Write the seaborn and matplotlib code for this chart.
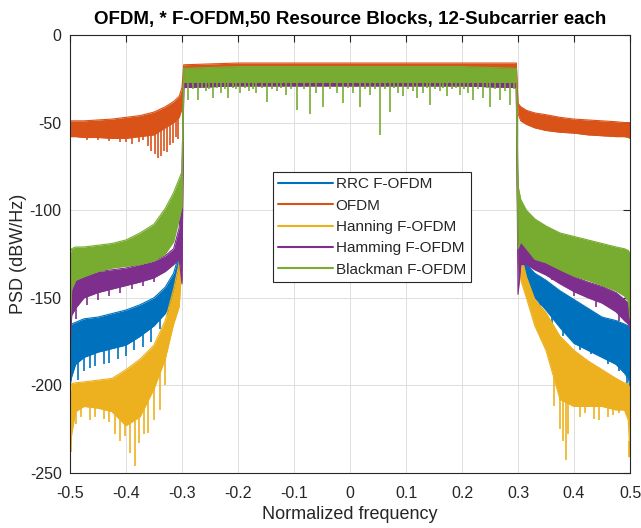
import numpy as np
import pandas as pd
import matplotlib
matplotlib.use("Agg")
import matplotlib.pyplot as plt
from matplotlib.lines import Line2D
import seaborn as sns

# Normalized frequency sample points shared by all spectra
freq = [-0.500, -0.497, -0.490, -0.475, -0.450, -0.425, -0.400, -0.375, -0.350,
        -0.330, -0.315, -0.305, -0.300,
        -0.297, -0.200, -0.100, 0.000, 0.100, 0.200, 0.297,
        0.300, 0.305, 0.315, 0.330, 0.350, 0.375, 0.400, 0.425, 0.450,
        0.475, 0.490, 0.497, 0.500]

series_names = ["RRC F-OFDM", "OFDM", "Hanning F-OFDM", "Hamming F-OFDM", "Blackman F-OFDM"]
series_colors = ["#0072BD", "#D95319", "#EDB120", "#7E2F8E", "#77AC30"]

# Upper / lower PSD envelopes (dBW/Hz) of each spectrum
rrc_hi = [-170, -165, -164, -162, -161, -159, -157, -154, -150, -144, -136, -125, -90,
          -20, -19, -19, -19, -19, -19, -20,
          -100, -125, -131, -136, -140, -146, -151, -156, -161, -163, -165, -166, -170]
rrc_lo = [-200, -195, -188, -184, -181, -179, -177, -172, -166, -159, -150, -140, -110,
          -30, -29, -29, -29, -29, -29, -30,
          -120, -135, -142, -150, -157, -167, -176, -180, -184, -188, -193, -196, -201]

ofdm_hi = [-49, -49, -49, -49, -48.5, -48, -47, -46, -44, -41, -38, -35, -30,
           -17, -16, -16, -16, -16, -16, -16,
           -39, -41, -43, -44.5, -45.5, -47, -48, -48.5, -49, -49.5, -50, -50, -50]
ofdm_lo = [-58, -58, -58, -58.5, -58.5, -59, -59, -58, -57, -53, -50, -47, -42,
           -26, -26, -26, -26, -26, -26, -26,
           -45, -49, -51, -53, -54.5, -55.5, -56, -57, -57.5, -58, -58, -58.5, -59]

hann_hi = [-205, -199, -198.5, -198, -197, -196, -191, -185, -177, -163, -145, -130, -100,
           -20, -19, -19, -19, -19, -19, -20,
           -110, -125, -138, -151, -158.5, -172, -180, -186, -191, -196, -198.6, -199, -203]
hann_lo = [-237, -228, -215, -212, -213, -215, -223, -218, -202, -185, -165, -155, -130,
           -30, -29, -29, -29, -29, -29, -30,
           -130, -140, -150, -166, -180, -208, -212, -212, -212, -214, -214, -220, -241]

hamm_hi = [-150, -145, -140, -137, -135, -134, -133, -131, -129, -126, -122, -110, -80,
           -20, -19, -19, -19, -19, -19, -20,
           -100, -118, -122, -125, -128, -133, -138, -141, -143.5, -147, -151, -153, -158]
hamm_lo = [-180, -160, -156, -150, -147, -145, -143, -141, -138.6, -135, -131, -128, -142,
           -30, -29, -29, -29, -29, -29, -30,
           -148, -131, -131, -134, -137, -142, -146.5, -150, -153, -158, -163, -165, -168]

black_hi = [-125, -122, -121, -121, -120, -119, -117, -113, -108, -99, -90, -82, -78,
            -19, -18, -18, -18, -18, -18, -19,
            -86, -94, -100, -105, -109, -113, -115, -117, -119, -121, -122, -123, -125]
black_lo = [-170, -145, -140, -138, -135, -133, -132, -131, -129, -125, -118, -105, -98,
            -27, -27, -27, -27, -27, -27, -27,
            -122, -118, -122, -128, -130, -134, -137.7, -140, -143, -146, -149, -152, -162]

# Deep notches of each spectrum: (frequency, minimum PSD)
rrc_dip_f = [-0.485, -0.475, -0.465, -0.455, -0.44, -0.43, -0.415, -0.40, -0.385, -0.37,
             -0.355, -0.34, -0.325, 0.34, 0.36, 0.38, 0.41, 0.43, 0.46, 0.48, 0.495]
rrc_dip_db = [-197, -192, -190, -189, -188, -187, -185, -183, -180, -178,
              -175, -168, -160, -160, -166, -172, -180, -182, -188, -192, -200]

ofdm_dip_f = [-0.47, -0.45, -0.43, -0.41, -0.40, -0.39, -0.376, -0.369, -0.361, -0.355,
              -0.349, -0.343, -0.338, -0.332, -0.326, -0.321, -0.316, -0.311, -0.307]
ofdm_dip_db = [-60, -60, -60.5, -61, -61, -62, -61, -60, -63.4, -66,
               -68, -70, -69, -66, -67, -63, -61.5, -58, -59.6]

hann_dip_f = [-0.498, -0.49, -0.48, -0.465, -0.455, -0.44, -0.43, -0.42, -0.41, -0.402,
              -0.393, -0.384, -0.376, -0.368, -0.361, -0.35, -0.34, -0.33,
              0.365, 0.375, 0.38, 0.385, 0.39, 0.41, 0.42, 0.435, 0.445, 0.46, 0.47, 0.48, 0.499]
hann_dip_db = [-238, -222, -218, -220, -218, -219, -221, -228, -232, -229,
               -238.5, -246, -233, -228, -227, -220, -214, -200,
               -212, -225, -232, -242.5, -228, -218, -216, -219, -220, -218, -217, -216, -241]

hamm_dip_f = [-0.49, -0.47, -0.45, -0.43, -0.41, -0.39, -0.37, -0.35, 0.36, 0.40, 0.44, 0.48]
hamm_dip_db = [-162, -154, -151, -149, -147, -145, -143, -141, -140, -149, -155, -163]

black_dip_f = [-0.289, -0.280, -0.271, -0.264, -0.258, -0.251, -0.244, -0.237, -0.230,
               -0.224, -0.217, -0.209, -0.203, -0.196, -0.188, -0.180, -0.174, -0.167,
               -0.158, -0.149, -0.140, -0.131, -0.123, -0.115, -0.105, -0.095, -0.083,
               -0.071, -0.060, -0.048, -0.036, -0.024, -0.012, -0.004, 0.005, 0.018,
               0.026, 0.035, 0.044, 0.054, 0.063, 0.071, 0.078, 0.085, 0.095, 0.104,
               0.112, 0.119, 0.130, 0.137, 0.143, 0.152, 0.160, 0.166, 0.173, 0.182,
               0.189, 0.196, 0.203, 0.210, 0.220, 0.229, 0.238, 0.244, 0.250, 0.259,
               0.268, 0.277, 0.286, 0.292]
black_dip_db = [-37, -31, -37, -30, -32, -31, -36, -30, -33, -31, -36, -30, -31, -33,
                -30, -32, -31, -33, -30, -38, -31, -32, -30, -34, -31, -43, -31,
                -45, -33, -41, -31, -33, -39, -30, -33, -41, -31, -34, -31, -57,
                -31, -44, -30, -33, -35, -31, -32, -36, -33, -30, -40, -31, -32,
                -30, -35, -31, -30, -34, -31, -33, -37, -31, -36, -30, -41, -31,
                -37, -32, -40, -31]

spectra = [
    (rrc_hi, rrc_lo, rrc_dip_f, rrc_dip_db),
    (ofdm_hi, ofdm_lo, ofdm_dip_f, ofdm_dip_db),
    (hann_hi, hann_lo, hann_dip_f, hann_dip_db),
    (hamm_hi, hamm_lo, hamm_dip_f, hamm_dip_db),
    (black_hi, black_lo, black_dip_f, black_dip_db),
]

sns.set_theme(style="whitegrid")
plt.rcParams["font.family"] = ["Liberation Sans", "DejaVu Sans"]
plt.rcParams["axes.unicode_minus"] = False

fig = plt.figure(figsize=(6.41, 5.28), dpi=100)
ax = fig.add_axes([70 / 641, 55 / 528, 560 / 641, 438 / 528])
ax.set_facecolor("white")

for z, ((hi, lo, dip_f, dip_db), color) in enumerate(zip(spectra, series_colors)):
    df = pd.DataFrame({"f": freq, "hi": hi, "lo": lo})
    ax.fill_between(df["f"], df["lo"], df["hi"], color=color, lw=0, zorder=2 + z)
    sns.lineplot(data=df, x="f", y="hi", color=color, lw=0.8, ax=ax,
                 zorder=2 + z, legend=False, estimator=None)
    sns.lineplot(data=df, x="f", y="lo", color=color, lw=0.8, ax=ax,
                 zorder=2 + z, legend=False, estimator=None)
    top = np.interp(dip_f, freq, lo) + 2
    ax.vlines(dip_f, dip_db, top, color=color, lw=1.2, zorder=2 + z)

ax.set_xlim(-0.5, 0.5)
ax.set_ylim(-250, 0)
ax.set_xticks(np.round(np.arange(-0.5, 0.51, 0.1), 1))
ax.set_xticklabels(["-0.5", "-0.4", "-0.3", "-0.2", "-0.1", "0", "0.1", "0.2", "0.3", "0.4", "0.5"])
ax.set_yticks(np.arange(-250, 1, 50))

ax.grid(True, color="#DEDEDE", lw=0.7)
ax.set_axisbelow(True)
for side in ["top", "bottom", "left", "right"]:
    ax.spines[side].set_visible(True)
    ax.spines[side].set_color("#262626")
    ax.spines[side].set_linewidth(0.8)
    ax.spines[side].set_zorder(10)
ax.tick_params(direction="in", length=5, width=0.8, color="#262626",
               top=True, right=True, labelsize=11.5, labelcolor="#262626")
ax.tick_params(axis="x", pad=9)
ax.tick_params(axis="y", pad=6)

ax.set_xlabel("Normalized frequency", fontsize=13, color="#262626", labelpad=4)
ax.set_ylabel("PSD (dBW/Hz)", fontsize=13, color="#262626", labelpad=2)
ax.set_title("OFDM, * F-OFDM,50 Resource Blocks, 12-Subcarrier each",
             fontsize=13.5, fontweight="bold", color="black", pad=8)

handles = [Line2D([0], [0], color=c, lw=1.5) for c in series_colors]
leg = ax.legend(handles, series_names, loc="upper left", bbox_to_anchor=(0.3625, 0.687),
                borderaxespad=0, fontsize=11, frameon=True, fancybox=False,
                framealpha=1, edgecolor="#262626", handlelength=3.6,
                handletextpad=0.15, borderpad=0.35, labelspacing=0.48)
leg.get_frame().set_linewidth(0.8)
leg.set_zorder(20)

fig.savefig("out.png", dpi=100, facecolor="white")
